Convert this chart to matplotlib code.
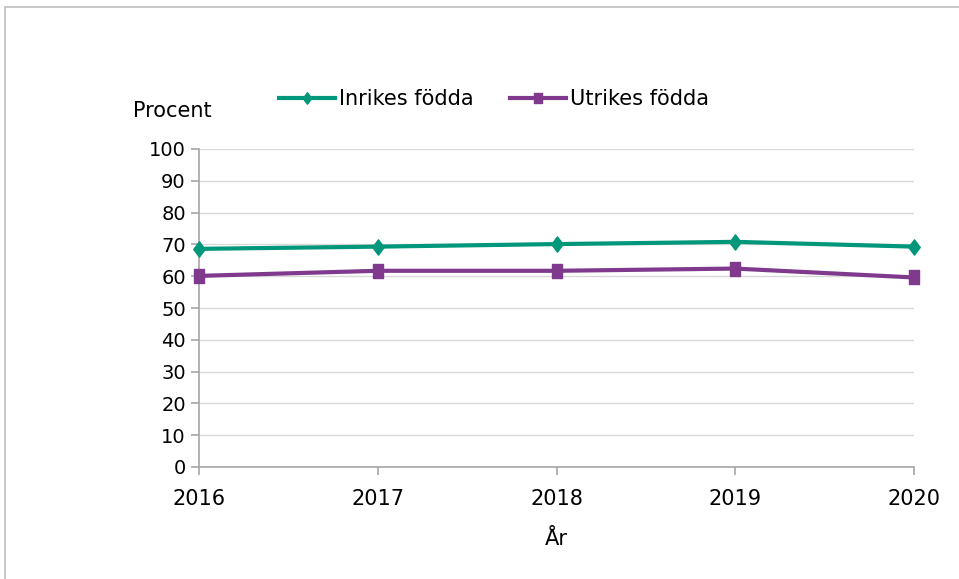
import matplotlib
matplotlib.use("Agg")
import matplotlib.pyplot as plt
from matplotlib.patches import Rectangle
from matplotlib.path import Path

years = [2016, 2017, 2018, 2019, 2020]
inrikes = [68.6, 69.3, 70.1, 70.8, 69.3]
utrikes = [60.1, 61.7, 61.7, 62.4, 59.6]
yticks = list(range(0, 101, 10))

plt.rcParams['font.family'] = ['DejaVu Sans']
fig = plt.figure(figsize=(9.59, 5.79), dpi=100)
ax = fig.add_axes([199/959, 1-467/579, (914-199)/959, (467-149)/579])

green = '#00977A'
purple = '#7F3A8E'
tall_sq = Path([(-0.67, -1), (0.67, -1), (0.67, 1), (-0.67, 1), (-0.67, -1)],
               [Path.MOVETO, Path.LINETO, Path.LINETO, Path.LINETO, Path.CLOSEPOLY])
diamond = Path([(0, -1), (0.75, 0), (0, 1), (-0.75, 0), (0, -1)],
               [Path.MOVETO, Path.LINETO, Path.LINETO, Path.LINETO, Path.CLOSEPOLY])
ax.plot(years, inrikes, color=green, lw=3, marker=diamond, ms=11, label='Inrikes födda', zorder=3, clip_on=False)
ax.plot(years, utrikes, color=purple, lw=3, marker=tall_sq, ms=10.5, label='Utrikes födda', zorder=3, clip_on=False)

ax.set_xlim(2016, 2020)
ax.set_ylim(0, 100)
ax.set_yticks(yticks)
ax.set_xticks(years)
ax.grid(axis='y', color='#D9D9D9', lw=1)
ax.set_axisbelow(True)
for s in ['top', 'right']:
    ax.spines[s].set_visible(False)
for s in ['left', 'bottom']:
    ax.spines[s].set_color('#A6A6A6')
    ax.spines[s].set_linewidth(1.2)
ax.tick_params(axis='both', colors='#A6A6A6', length=6, width=1.2, labelcolor='black')
ax.tick_params(axis='y', labelsize=14)
ax.tick_params(axis='x', labelsize=15, pad=10)
ax.set_xlabel('År', fontsize=15, labelpad=14)
fig.text(133/959, 1-111/579, 'Procent', fontsize=15, va='center', ha='left')

leg = fig.legend(loc='center', bbox_to_anchor=(494/959, 1-99/579), ncol=2, frameon=False,
                 fontsize=15, handlelength=2.7, columnspacing=1.7, handletextpad=0.2,
                 markerscale=0.75)

fig.patches.append(Rectangle((5/959, -0.1), 1.2, 1.1-7/579, transform=fig.transFigure,
                             fill=False, edgecolor='#BFBFBF', lw=1.2))
fig.savefig('out.png', dpi=100)
